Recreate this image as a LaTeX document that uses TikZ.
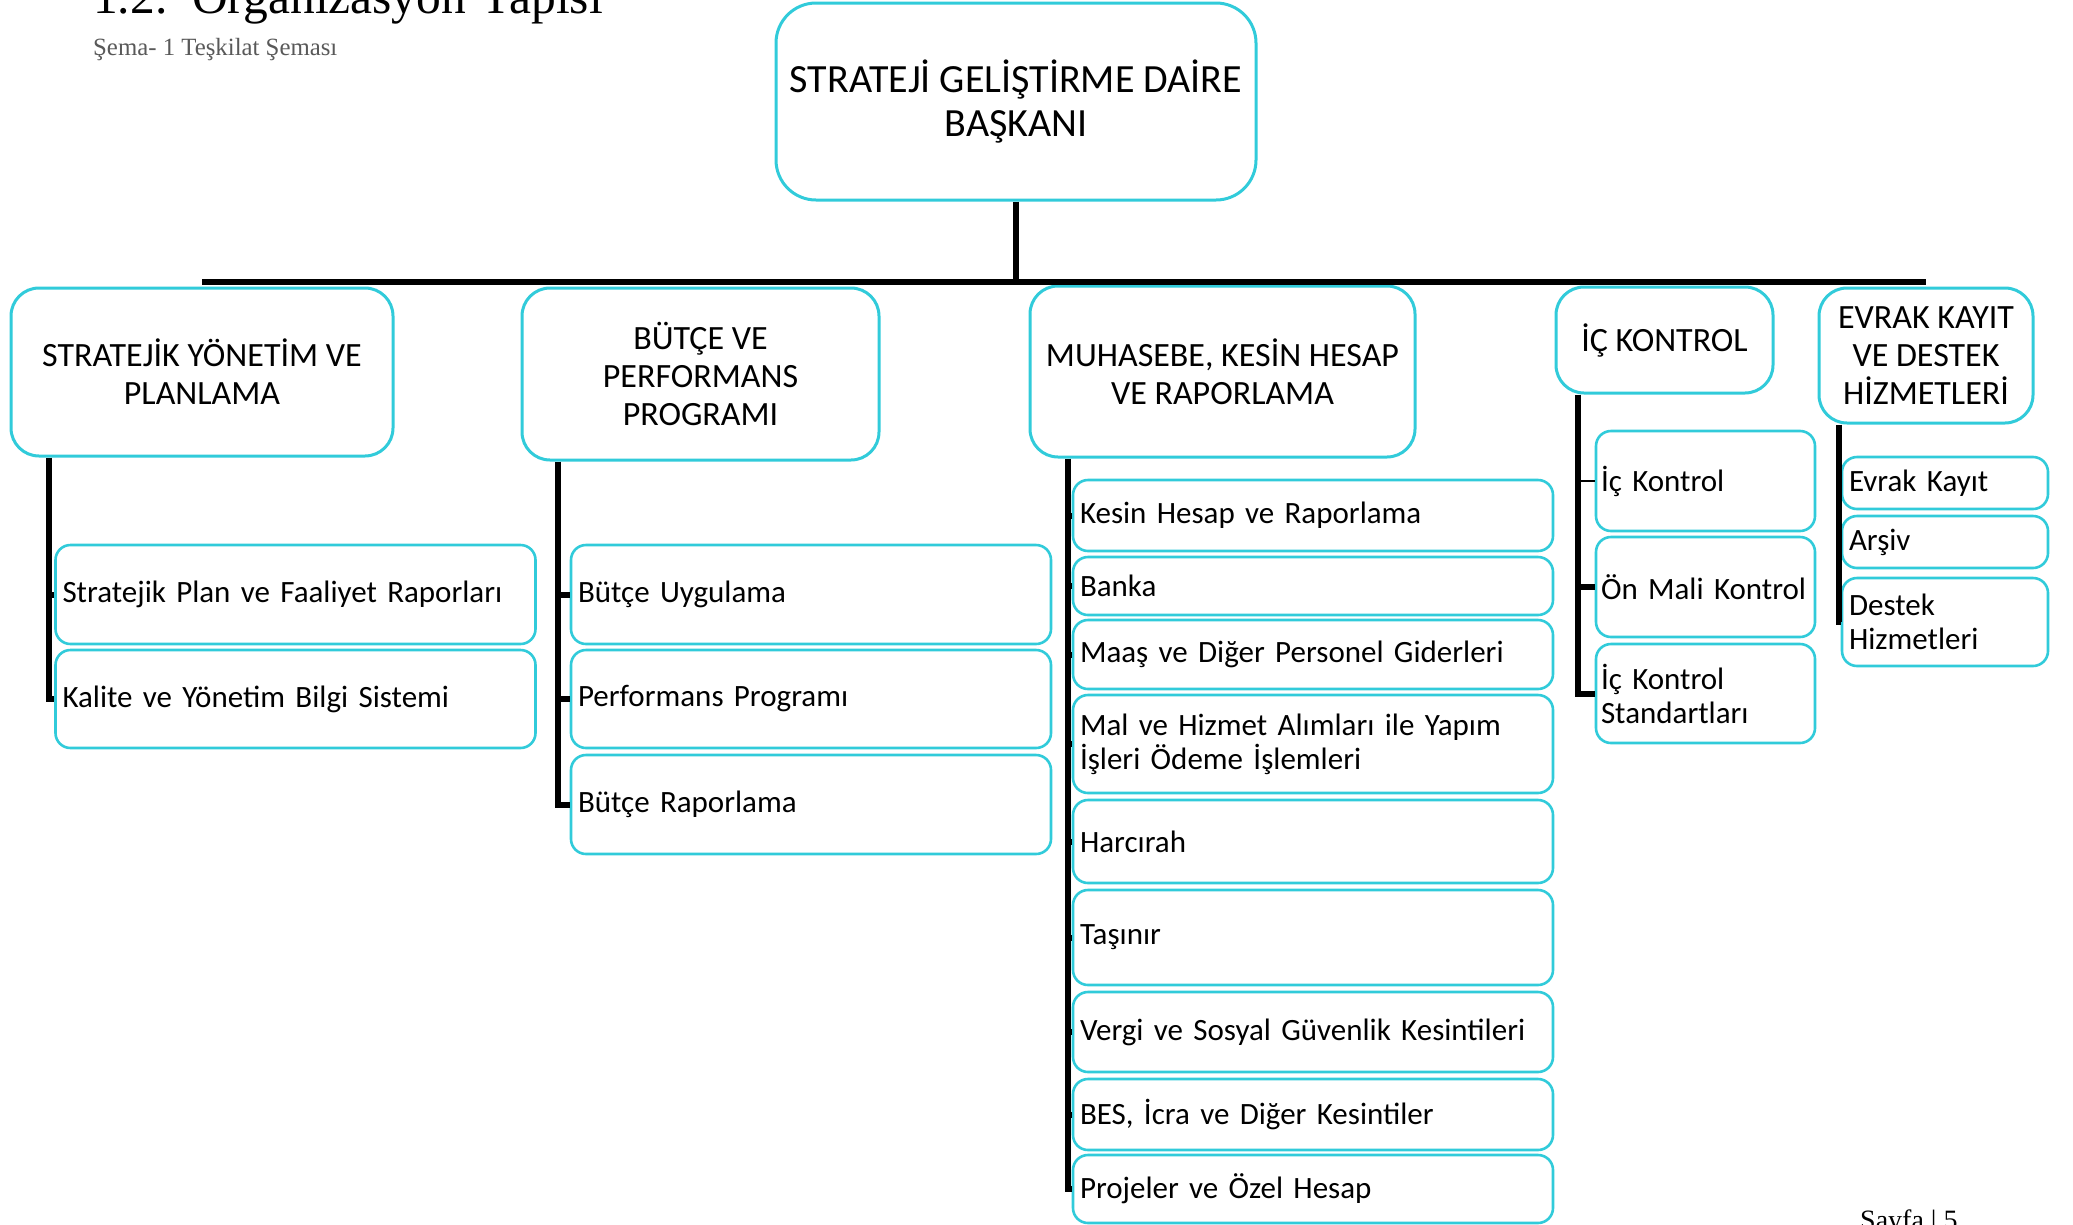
\documentclass[tikz,border=0pt]{standalone}
\usepackage{fontspec}
\setmainfont{Carlito}
\newfontfamily\basfont{Liberation Serif}
\usepackage{tikz}
\usetikzlibrary{positioning,calc}
\definecolor{kutumavi}{RGB}{49,203,218}
\definecolor{altgri}{RGB}{89,89,89}
\hyphenpenalty=10000
\tikzset{
  topbox/.style={draw=kutumavi, fill=white, line width=3pt, rounded corners=40pt,
    align=center, inner sep=5pt, font=\fontsize{40}{44}\selectfont},
  headbox/.style={draw=kutumavi, fill=white, line width=3pt, rounded corners=28pt,
    align=center, inner sep=5pt, font=\fontsize{34}{38}\selectfont},
  subbox/.style={draw=kutumavi, fill=white, line width=2.6pt, rounded corners=15pt,
    align=left, inner xsep=7pt, inner ysep=4pt, text width=#1,
    font=\fontsize{31}{34}\selectfont},
  conn/.style={line width=6pt, black}
}

\begin{document}
\begin{tikzpicture}[x=1pt, y=-1pt]
    \useasboundingbox (0,0) rectangle (2073,1224);

    % Baslik
    \node[anchor=base west, inner sep=0, font=\basfont\fontsize{49.5}{49}\selectfont] (baslik) at (93,13) {1.2.\ \ Organizasyon Yapısı};
    \node[anchor=base west, inner sep=0, text=altgri, font=\basfont\fontsize{24.8}{26}\selectfont] (sema) at (93,55) {Şema- 1 Teşkilat Şeması};
    \node[anchor=north west, inner sep=0, font=\basfont\fontsize{28}{28}\selectfont] (sayfa) at (1860,1210) {Sayfa | 5};

    % Daire Baskani
    \node[topbox, minimum width=480, minimum height=197] (baskan) at (1016,101.5) {STRATEJİ GELİŞTİRME DAİRE\\BAŞKANI};

    % Birimler
    \node[headbox, minimum width=382, minimum height=168] (sy) at (202,372) {STRATEJİK YÖNETİM VE\\PLANLAMA};
    \node[headbox, minimum width=357, minimum height=172] (bp) at (700.5,374) {BÜTÇE VE\\PERFORMANS\\PROGRAMI};
    \node[headbox, minimum width=385, minimum height=171] (mk) at (1222.5,371.5) {MUHASEBE, KESİN HESAP\\VE RAPORLAMA};
    \node[headbox, minimum width=217, minimum height=106] (ik) at (1664.5,340) {İÇ KONTROL};
    \node[headbox, minimum width=214, minimum height=135] (ed) at (1926,355.5) {EVRAK KAYIT\\VE DESTEK\\HİZMETLERİ};

    % Stratejik Yonetim alt birimleri
    \node[subbox=466pt, minimum height=99] (sy1) at (295.5,594.5) {Stratejik Plan ve Faaliyet Raporları};
    \node[subbox=466pt, minimum height=98] (sy2) at (295.5,699) {Kalite ve Yönetim Bilgi Sistemi};

    % Butce alt birimleri
    \node[subbox=466pt, minimum height=99] (bp1) at (811,594.5) {Bütçe Uygulama};
    \node[subbox=466pt, minimum height=98] (bp2) at (811,699) {Performans Programı};
    \node[subbox=466pt, minimum height=99] (bp3) at (811,804.5) {Bütçe Raporlama};

    % Muhasebe alt birimleri
    \node[subbox=466pt, minimum height=71] (mk1) at (1313,515.5) {Kesin Hesap ve Raporlama};
    \node[subbox=466pt, minimum height=58] (mk2) at (1313,586) {Banka};
    \node[subbox=466pt, minimum height=69] (mk3) at (1313,654.5) {Maaş ve Diğer Personel Giderleri};
    \node[subbox=466pt, minimum height=98] (mk4) at (1313,744) {Mal ve Hizmet Alımları ile Yapım\\İşleri Ödeme İşlemleri};
    \node[subbox=466pt, minimum height=83] (mk5) at (1313,841.5) {Harcırah};
    \node[subbox=466pt, minimum height=95] (mk6) at (1313,937.5) {Taşınır};
    \node[subbox=466pt, minimum height=80] (mk7) at (1313,1032) {Vergi ve Sosyal Güvenlik Kesintileri};
    \node[subbox=466pt, minimum height=71] (mk8) at (1313,1114.5) {BES, İcra ve Diğer Kesintiler};
    \node[subbox=466pt, minimum height=68] (mk9) at (1313,1189) {Projeler ve Özel Hesap};

    % Ic Kontrol alt birimleri
    \node[subbox=209pt, inner xsep=5pt, minimum height=100] (ik1) at (1705.5,481) {İç Kontrol};
    \node[subbox=209pt, inner xsep=5pt, minimum height=100] (ik2) at (1705.5,587) {Ön Mali Kontrol};
    \node[subbox=209pt, inner xsep=5pt, minimum height=99] (ik3) at (1705.5,693.5) {İç Kontrol\\Standartları};

    % Evrak Kayit alt birimleri
    \node[subbox=192pt, minimum height=52] (ed1) at (1945,483) {Evrak Kayıt};
    \node[subbox=192pt, minimum height=52] (ed2) at (1945,542) {Arşiv};
    \node[subbox=192pt, minimum height=88] (ed3) at (1945,622) {Destek\\Hizmetleri};

    % Ana hat
    \coordinate (hat) at (0,282);
    \draw[conn] (baskan.south) -- (baskan.south |- hat);
    \draw[conn] (sy.north |- hat) -- (ed.north |- hat);

    % Kollar
    \coordinate (syx) at (49,0);
    \draw[conn] (syx |- sy.south) |- (sy2.west);
    \draw[conn] (syx |- sy1.west) -- (sy1.west);

    \coordinate (bpx) at (558,0);
    \draw[conn] (bpx |- bp.south) |- (bp3.west);
    \draw[conn] (bpx |- bp1.west) -- (bp1.west);
    \draw[conn] (bpx |- bp2.west) -- (bp2.west);

    \coordinate (mkx) at (1068,0);
    \draw[conn] (mkx |- mk.south) |- (mk9.west);
    \draw[conn] (mkx |- mk1.west) -- (mk1.west);
    \draw[conn] (mkx |- mk2.west) -- (mk2.west);
    \draw[conn] (mkx |- mk3.west) -- (mk3.west);
    \draw[conn] (mkx |- mk4.west) -- (mk4.west);
    \draw[conn] (mkx |- mk5.west) -- (mk5.west);
    \draw[conn] (mkx |- mk6.west) -- (mk6.west);
    \draw[conn] (mkx |- mk7.west) -- (mk7.west);
    \draw[conn] (mkx |- mk8.west) -- (mk8.west);

    \coordinate (ikx) at (1578,0);
    \draw[conn] (ikx |- ik.south) |- (ik3.west);
    \draw[conn, line width=1.5pt] (ikx |- ik1.west) -- (ik1.west);
    \draw[conn] (ikx |- ik2.west) -- (ik2.west);

    \coordinate (edx) at (1839,0);
    \draw[conn] (edx |- ed.south) |- (ed3.west);
    \draw[conn] (edx |- ed1.west) -- (ed1.west);
    \draw[conn] (edx |- ed2.west) -- (ed2.west);
\end{tikzpicture}
\end{document}
